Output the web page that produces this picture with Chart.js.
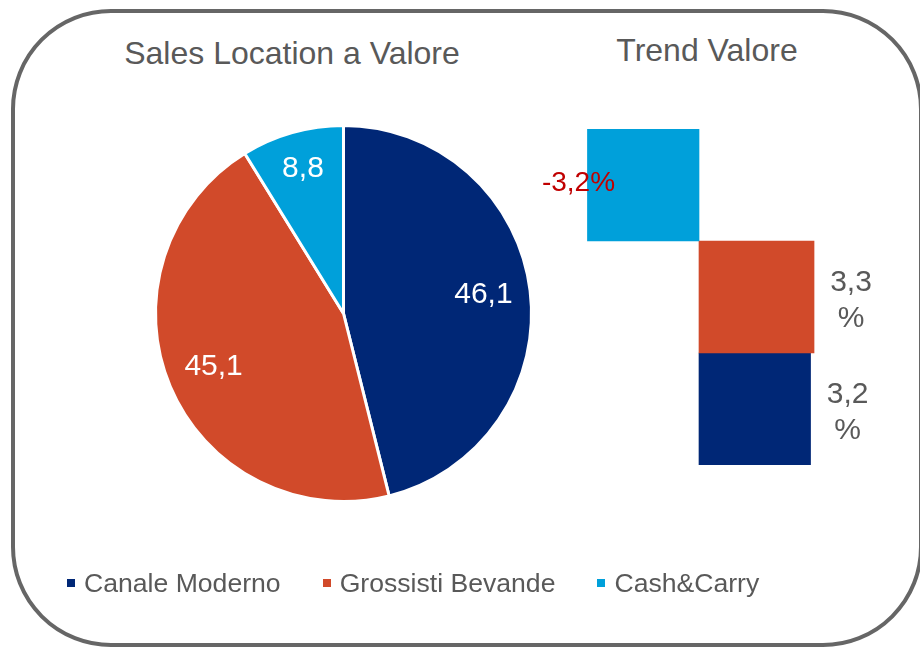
<!DOCTYPE html>
<html>
<head>
<meta charset="utf-8">
<script src="https://cdn.jsdelivr.net/npm/chart.js@4/dist/chart.umd.min.js"></script>
<style>
  html, body { margin: 0; padding: 0; background: #fff; }
  #wrap { position: relative; width: 920px; height: 647px; overflow: hidden;
          font-family: 'Liberation Sans', Arial, sans-serif; color: #595959; }
  #frame { position: absolute; left: 11px; top: 9px; width: 912px; height: 638px;
           box-sizing: border-box; border: 4px solid #666; border-radius: 100px; }
  canvas { position: absolute; left: 0; top: 0; }
  .title { position: absolute; font-size: 32px; line-height: 36px; white-space: nowrap;
           transform: translateX(-50%); }
  #legend { position: absolute; left: 67px; top: 566px; display: flex; align-items: center;
            font-size: 26.6px; line-height: 34px; white-space: nowrap; }
  .item { display: flex; align-items: center; margin-right: 42px; }
  .swatch { width: 8px; height: 8px; margin-right: 9px; }
</style>
</head>
<body>
<div id="wrap">
  <div id="frame"></div>
  <div class="title" style="left:292px; top:35px;">Sales Location a Valore</div>
  <div class="title" style="left:707px; top:32px;">Trend Valore</div>
  <canvas id="pieChart" width="920" height="647"></canvas>
  <canvas id="trendChart" width="920" height="647"></canvas>
  <div id="legend"></div>
</div>
<script>
/* ============================================================
   DATA
============================================================ */
const categories  = ['Canale Moderno', 'Grossisti Bevande', 'Cash&Carry'];
const shareValues = [46.1, 45.1, 8.8];     // Sales Location a Valore
const trendValues = [3.2, 3.3, -3.2];      // Trend Valore (%)
const colors      = ['#002776', '#D14A2A', '#00A0DA'];

const FONT = '"Liberation Sans", Arial, sans-serif';
const fmt = v => v.toFixed(1).replace('.', ',');

/* ============================================================
   PIE — Sales Location a Valore
============================================================ */
const pieLabels = {
  id: 'pieLabels',
  afterDatasetsDraw(chart) {
    const { ctx } = chart;
    ctx.save();
    ctx.font = '30px ' + FONT;
    ctx.fillStyle = '#fff';
    ctx.textAlign = 'center';
    ctx.textBaseline = 'middle';
    chart.getDatasetMeta(0).data.forEach((arc, i) => {
      const { x, y, startAngle, endAngle, outerRadius } =
        arc.getProps(['x', 'y', 'startAngle', 'endAngle', 'outerRadius'], true);
      const mid = (startAngle + endAngle) / 2;
      // small slices get their label pushed a bit further out
      const r = outerRadius * (shareValues[i] < 15 ? 0.79 : 0.75);
      ctx.fillText(fmt(shareValues[i]), x + Math.cos(mid) * r, y + Math.sin(mid) * r - 2);
    });
    ctx.restore();
  }
};

new Chart(document.getElementById('pieChart'), {
  type: 'pie',
  data: {
    labels: categories,
    datasets: [{
      data: shareValues,
      backgroundColor: colors,
      borderColor: '#fff',
      borderWidth: 3
    }]
  },
  options: {
    responsive: false,
    animation: false,
    layout: { padding: { left: 154, right: 387, top: 124, bottom: 144 } },
    plugins: { legend: { display: false }, tooltip: { enabled: false } }
  },
  plugins: [pieLabels]
});

/* ============================================================
   BARS — Trend Valore
============================================================ */
const trendLabels = {
  id: 'trendLabels',
  afterDatasetsDraw(chart) {
    const { ctx } = chart;
    ctx.save();
    ctx.textAlign = 'center';
    ctx.textBaseline = 'middle';
    chart.getDatasetMeta(0).data.forEach((bar, i) => {
      const v = trendValues[i];
      const { x, y } = bar.getProps(['x', 'y'], true);
      if (v < 0) {
        ctx.font = '28px ' + FONT;
        ctx.fillStyle = '#C00000';
        ctx.fillText(fmt(v) + '%', x - 9, y - 2);
      } else {
        ctx.font = '30px ' + FONT;
        ctx.fillStyle = '#595959';
        ctx.fillText(fmt(v), x + 37, y - 14);
        ctx.fillText('%', x + 37, y + 22);
      }
    });
    ctx.restore();
  }
};

new Chart(document.getElementById('trendChart'), {
  type: 'bar',
  data: {
    labels: categories,
    datasets: [{
      data: trendValues,
      backgroundColor: colors,
      borderWidth: 0,
      barPercentage: 1,
      categoryPercentage: 1
    }]
  },
  options: {
    indexAxis: 'y',
    responsive: false,
    animation: false,
    layout: { padding: { left: 577, right: 99, top: 129, bottom: 182 } },
    scales: {
      x: { display: false, min: -3.5, max: 3.5 },
      y: { display: false, reverse: true }
    },
    plugins: { legend: { display: false }, tooltip: { enabled: false } }
  },
  plugins: [trendLabels]
});

/* ============================================================
   LEGEND
============================================================ */
const legend = document.getElementById('legend');
categories.forEach((name, i) => {
  const item = document.createElement('div');
  item.className = 'item';
  const sw = document.createElement('span');
  sw.className = 'swatch';
  sw.style.background = colors[i];
  item.appendChild(sw);
  item.appendChild(document.createTextNode(name));
  legend.appendChild(item);
});
</script>
</body>
</html>
